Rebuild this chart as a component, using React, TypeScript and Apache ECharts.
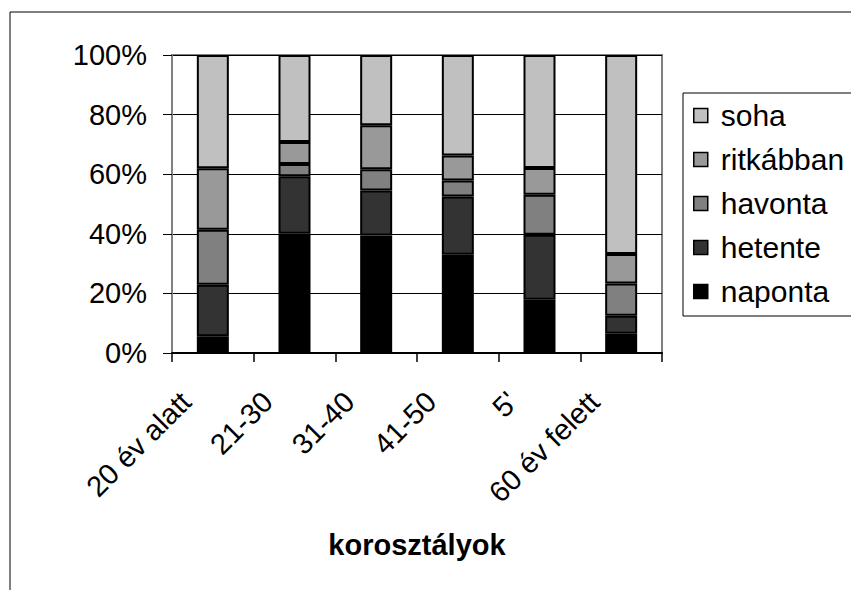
import React, { useEffect, useRef } from "react";
import * as echarts from "echarts";

const categories = ["20 év alatt", "21-30", "31-40", "41-50", "5'", "60 év felett"];
const naponta = [5.6, 40, 39.4, 33, 17.9, 6.5];
const hetente = [17.3, 19.3, 15.1, 19.5, 21.8, 6.0];
const havonta = [18.5, 4.1, 7.2, 5.4, 13.4, 10.8];
const ritkabban = [20.6, 7.4, 14.7, 8.4, 9.0, 9.9];
const soha = [38.0, 29.2, 23.6, 33.7, 37.9, 66.8];
const legendOrder = ["soha", "ritkábban", "havonta", "hetente", "naponta"];
const xTitle = "korosztályok";

const FONT = "'Liberation Sans', Arial, sans-serif";

export default function App() {
  const ref = useRef<HTMLDivElement>(null);
  useEffect(() => {
    if (!ref.current) return;
    const chart = echarts.init(ref.current, null, { renderer: "svg" });
    const mk = (name: string, data: number[], color: string) => ({
      name,
      type: "bar",
      stack: "total",
      data,
      barWidth: 32,
      itemStyle: { color, borderColor: "#000", borderWidth: 2 },
    });
    chart.setOption({
      animation: false,
      backgroundColor: "#fff",
      textStyle: { fontFamily: FONT },
      grid: { left: 172, top: 55, width: 490, height: 298, show: true, borderColor: "#808080", borderWidth: 2, backgroundColor: "transparent" },
      legend: {
        orient: "vertical",
        left: 693,
        top: 100,
        itemWidth: 14,
        itemHeight: 14,
        itemGap: 13,
        padding: 0,
        data: legendOrder,
        icon: "rect",
        itemStyle: { borderColor: "#000", borderWidth: 1.5 },
        textStyle: { fontSize: 30, color: "#000", fontFamily: FONT, padding: [0, 0, 0, 8], lineHeight: 31 },
      },
      xAxis: {
        type: "category",
        data: categories,
        axisLine: { lineStyle: { color: "#000", width: 2 } },
        axisTick: { show: true, length: 9, lineStyle: { color: "#000", width: 1.5 } },
        axisLabel: { interval: 0, rotate: 45, fontSize: 29, color: "#000", margin: 17, padding: [0, 38, 0, 0], fontFamily: FONT },
      },
      yAxis: {
        type: "value",
        min: 0,
        max: 100,
        interval: 20,
        axisLine: { show: true, lineStyle: { color: "#808080", width: 2 } },
        axisTick: { show: true, length: 9, lineStyle: { color: "#000", width: 1 } },
        axisLabel: { formatter: "{value}%", fontSize: 29, color: "#000", margin: 25, fontFamily: FONT },
        splitLine: { show: true, lineStyle: { color: "#000", width: 1 } },
      },
      graphic: [
        { type: "rect", shape: { x: 10, y: 12, width: 900, height: 700 }, style: { fill: "none", stroke: "#000", lineWidth: 1 }, z: -1 },
        { type: "rect", shape: { x: 683, y: 93, width: 200, height: 223 }, style: { fill: "#fff", stroke: "#000", lineWidth: 1 }, z: 0 },
        { type: "text", x: 417, y: 545, style: { text: xTitle, font: `bold 29px ${FONT}`, fill: "#000", textAlign: "center", textVerticalAlign: "middle" } },
      ],
      series: [
        mk("naponta", naponta, "#000000"),
        mk("hetente", hetente, "#333333"),
        mk("havonta", havonta, "#808080"),
        mk("ritkábban", ritkabban, "#999999"),
        mk("soha", soha, "#C0C0C0"),
      ],
    });
    return () => chart.dispose();
  }, []);
  return <div ref={ref} style={{ position: "fixed", left: 0, top: 0, width: 851, height: 590 }} />;
}
